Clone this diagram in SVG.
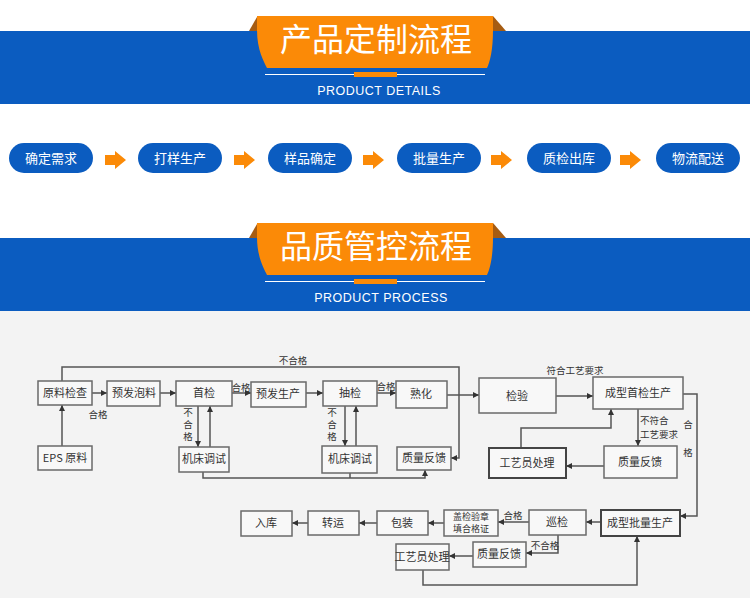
<svg xmlns="http://www.w3.org/2000/svg" width="750" height="598" viewBox="0 0 750 598">
<defs>
<style>
.blue{fill:#0b5cc0}
.tab{fill:#fb8a07}
.fold{fill:#a65c12}
.title{font-family:"Noto Sans CJK SC","Noto Sans",sans-serif;font-size:32px;fill:#fff;text-anchor:middle}
.sub{font-family:"Liberation Sans","Noto Sans",sans-serif;font-size:12.5px;fill:#fff;text-anchor:middle;letter-spacing:0.5px}
.pill rect{fill:#0b5cc0}
.pill text{font-family:"Noto Sans CJK SC",sans-serif;font-size:13px;fill:#fff;text-anchor:middle}
.oarrow{fill:#fb8a07}
.box rect{fill:#f8f8f8;stroke:#6a6a6a;stroke-width:1.5}
.box.bold rect{stroke:#444;stroke-width:2}
.box text{font-family:"Noto Sans CJK SC",sans-serif;font-size:11px;fill:#333;text-anchor:middle}
.lbl{font-family:"Noto Sans CJK SC",sans-serif;font-size:9.5px;fill:#333;text-anchor:middle}
.lblL{font-family:"Noto Sans CJK SC",sans-serif;font-size:9.5px;fill:#333}
.vlbl{font-family:"Noto Sans CJK SC",sans-serif;font-size:9.5px;fill:#333;writing-mode:vertical-rl;letter-spacing:2.5px}
#connectors path{fill:none;stroke:#555;stroke-width:1.5}
</style>
<marker id="ah" markerWidth="6" markerHeight="6" refX="6" refY="3" orient="auto" markerUnits="userSpaceOnUse"><path d="M0,0 L6,3 L0,6 Z" fill="#333"/></marker>
<g id="banner">
<rect class="blue" x="0" y="31" width="750" height="73"/>
<polygon class="fold" points="249,31 257,17 257,31"/>
<polygon class="fold" points="493,16 506,31 493,31"/>
<path class="tab" d="M257,16 H493 V30 C493,50 490,62 487,68 H267 C264,62 257,50 257,30 Z"/>
<line x1="265" y1="74.5" x2="485" y2="74.5" stroke="#fff" stroke-width="1.2"/>
<rect x="354" y="72" width="43" height="5" fill="#fb8a07"/>
</g>
</defs>

<rect x="0" y="0" width="750" height="598" fill="#fff"/>
<rect x="0" y="311" width="750" height="287" fill="#f3f3f3"/>

<g id="banner-top">
<use href="#banner"/>
<text class="title" x="376" y="51">产品定制流程</text>
<text class="sub" x="379" y="95">PRODUCT DETAILS</text>
</g>

<g id="banner-bottom">
<use href="#banner" transform="translate(0,207)"/>
<text class="title" x="376" y="258">品质管控流程</text>
<text class="sub" x="381" y="302">PRODUCT PROCESS</text>
</g>

<g id="pill-row">
<g id="p1" class="pill"><rect x="9" y="143" width="84" height="30" rx="15"/><text x="51" y="163">确定需求</text></g>
<g id="p2" class="pill"><rect x="138" y="143" width="84" height="30" rx="15"/><text x="180" y="163">打样生产</text></g>
<g id="p3" class="pill"><rect x="268" y="143" width="84" height="30" rx="15"/><text x="310" y="163">样品确定</text></g>
<g id="p4" class="pill"><rect x="397" y="143" width="84" height="30" rx="15"/><text x="439" y="163">批量生产</text></g>
<g id="p5" class="pill"><rect x="527" y="143" width="84" height="30" rx="15"/><text x="569" y="163">质检出库</text></g>
<g id="p6" class="pill"><rect x="656" y="143" width="84" height="30" rx="15"/><text x="698" y="163">物流配送</text></g>
<g id="pill-arrows">
<path class="oarrow" d="M105,155 H115 V151 L126,160 L115,169 V165 H105 Z"/>
<path class="oarrow" d="M234,155 H244 V151 L255,160 L244,169 V165 H234 Z"/>
<path class="oarrow" d="M363,155 H373 V151 L384,160 L373,169 V165 H363 Z"/>
<path class="oarrow" d="M491,155 H501 V151 L512,160 L501,169 V165 H491 Z"/>
<path class="oarrow" d="M620,155 H630 V151 L641,160 L630,169 V165 H620 Z"/>
</g>
</g>

<g id="connectors">
<path d="M92,393 H107" marker-end="url(#ah)"/>
<path d="M160,393 H176" marker-end="url(#ah)"/>
<path d="M232,393 H251" marker-end="url(#ah)"/>
<path d="M306,393 H323" marker-end="url(#ah)"/>
<path d="M377,393 H396" marker-end="url(#ah)"/>
<path d="M447,395 H479" marker-end="url(#ah)"/>
<path d="M556,396 H593" marker-end="url(#ah)"/>
<path d="M62,446 V405" marker-end="url(#ah)"/>
<path d="M62,381 V367 H459 V458 H451" marker-end="url(#ah)"/>
<path d="M198,406 V447" marker-end="url(#ah)"/>
<path d="M210,447 V406" marker-end="url(#ah)"/>
<path d="M345,406 V446" marker-end="url(#ah)"/>
<path d="M356,446 V406" marker-end="url(#ah)"/>
<path d="M203,472 V478 H425 V470" marker-end="url(#ah)"/>
<path d="M350,473 V478"/>
<path d="M683,394 H697 V516 H680" marker-end="url(#ah)"/>
<path d="M638,409 V446" marker-end="url(#ah)"/>
<path d="M604,466 H566" marker-end="url(#ah)"/>
<path d="M521,448 V428 H611 V409" marker-end="url(#ah)"/>
<path d="M601,522 H586" marker-end="url(#ah)"/>
<path d="M529,522 H498" marker-end="url(#ah)"/>
<path d="M444,523 H428" marker-end="url(#ah)"/>
<path d="M377,523 H359" marker-end="url(#ah)"/>
<path d="M308,523 H292" marker-end="url(#ah)"/>
<path d="M558,535 V553 H526" marker-end="url(#ah)"/>
<path d="M473,556 H449" marker-end="url(#ah)"/>
<path d="M423,570 V585 H637 V536" marker-end="url(#ah)"/>
</g>

<g id="labels">
<text class="lbl" x="293" y="364">不合格</text>
<text class="lbl" x="98" y="418">合格</text>
<text class="lbl" x="241" y="391">合格</text>
<text class="vlbl" x="188" y="408">不合格</text>
<text class="lbl" x="386" y="390">合格</text>
<text class="vlbl" x="332" y="408">不合格</text>
<text class="lbl" x="575" y="374">符合工艺要求</text>
<text class="lblL" x="640" y="424">不符合</text>
<text class="lblL" x="640" y="438">工艺要求</text>
<text class="lbl" x="688" y="428">合</text>
<text class="lbl" x="688" y="456">格</text>
<text class="lbl" x="513" y="519">合格</text>
<text class="lbl" x="545" y="549">不合格</text>
</g>

<g id="n-yuanliao" class="box"><rect x="38" y="381" width="54" height="24"/><text x="65" y="397">原料检查</text></g>
<g id="n-eps" class="box"><rect x="38" y="446" width="54" height="24"/><text x="65" y="462">EPS 原料</text></g>
<g id="n-yufapao" class="box"><rect x="107" y="381" width="53" height="25"/><text x="134" y="397">预发泡料</text></g>
<g id="n-shoujian" class="box"><rect x="176" y="381" width="56" height="25"/><text x="204" y="397">首检</text></g>
<g id="n-jichuang1" class="box"><rect x="179" y="447" width="50" height="25"/><text x="204" y="463">机床调试</text></g>
<g id="n-yufasc" class="box"><rect x="251" y="382" width="55" height="25"/><text x="278" y="398">预发生产</text></g>
<g id="n-choujian" class="box"><rect x="323" y="381" width="54" height="25"/><text x="350" y="397">抽检</text></g>
<g id="n-jichuang2" class="box"><rect x="322" y="446" width="55" height="27"/><text x="350" y="463">机床调试</text></g>
<g id="n-shuhua" class="box"><rect x="396" y="381" width="51" height="27"/><text x="421" y="398">熟化</text></g>
<g id="n-zlfk1" class="box"><rect x="397" y="447" width="54" height="23"/><text x="424" y="462">质量反馈</text></g>
<g id="n-jianyan" class="box"><rect x="479" y="378" width="77" height="35"/><text x="517" y="400">检验</text></g>
<g id="n-cxsj" class="box"><rect x="593" y="377" width="90" height="32"/><text x="638" y="397">成型首检生产</text></g>
<g id="n-zlfk2" class="box"><rect x="604" y="446" width="73" height="32"/><text x="640" y="466">质量反馈</text></g>
<g id="n-gyy1" class="box bold"><rect x="489" y="448" width="77" height="30"/><text x="527" y="467">工艺员处理</text></g>
<g id="n-cxpl" class="box bold"><rect x="601" y="510" width="79" height="26"/><text x="640" y="527">成型批量生产</text></g>
<g id="n-xunjian" class="box"><rect x="529" y="510" width="57" height="25"/><text x="557" y="526">巡检</text></g>
<g id="n-gaizhang" class="box"><rect x="444" y="510" width="54" height="26"/><text x="471" y="519.5" style="font-size:9px">盖检验章</text><text x="471" y="531.5" style="font-size:9px">填合格证</text></g>
<g id="n-baozhuang" class="box"><rect x="377" y="511" width="51" height="24"/><text x="402" y="527">包装</text></g>
<g id="n-zhuanyun" class="box"><rect x="308" y="511" width="51" height="24"/><text x="333" y="527">转运</text></g>
<g id="n-ruku" class="box"><rect x="241" y="511" width="51" height="25"/><text x="266" y="527">入库</text></g>
<g id="n-zlfk3" class="box"><rect x="473" y="542" width="53" height="25"/><text x="499" y="558">质量反馈</text></g>
<g id="n-gyy2" class="box"><rect x="396" y="544" width="53" height="26"/><text x="422" y="561">工艺员处理</text></g>
</svg>
